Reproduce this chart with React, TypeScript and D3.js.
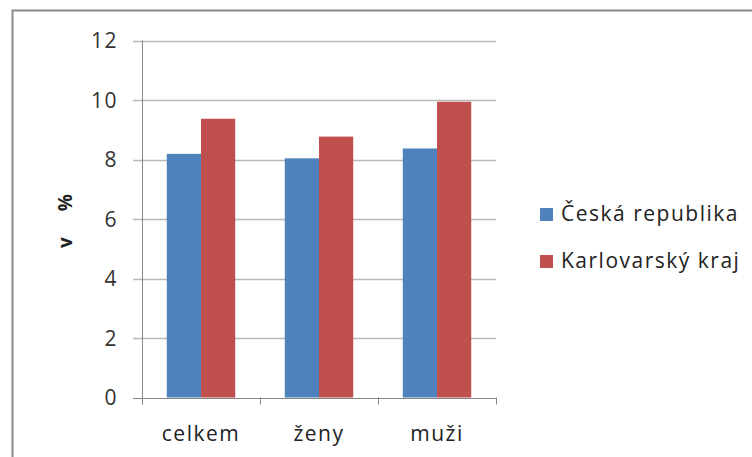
import React, { useEffect, useRef } from "react";
import * as d3 from "d3";

const categories = ["celkem", "ženy", "muži"];
const seriesNames = ["Česká republika", "Karlovarský kraj"];
const ceskaRepublika = [8.19, 8.04, 8.37];
const karlovarskyKraj = [9.37, 8.77, 9.94];
const yTicks = [0, 2, 4, 6, 8, 10, 12];
const colors = ["#4F81BD", "#C0504D"];

const App = () => {
  const ref = useRef<SVGSVGElement>(null);

  useEffect(() => {
    const width = 752;
    const height = 457;
    const left = 142;
    const right = 496;
    const top = 40.5;
    const bottom = 397.5;
    const font = "'Open Sans', sans-serif";
    const spacing = "1.5px";

    const svg = d3.select(ref.current);
    svg.selectAll("*").remove();

    // frame
    svg
      .append("path")
      .attr("d", `M12.5,${height} V10.5 H${width}`)
      .attr("fill", "none")
      .attr("stroke", "#8a8a8a")
      .attr("stroke-width", 2);

    const x = d3.scaleBand().domain(categories).range([left, right]).padding(0);
    const y = d3.scaleLinear().domain([0, 12]).range([bottom, top]);

    const groupWidth = x.bandwidth() * 0.58;
    const x1 = d3
      .scaleBand()
      .domain(seriesNames)
      .range([(x.bandwidth() - groupWidth) / 2, (x.bandwidth() + groupWidth) / 2]);

    // gridlines
    svg
      .selectAll("line.grid")
      .data(yTicks)
      .join("line")
      .attr("class", "grid")
      .attr("x1", left - 9)
      .attr("x2", right)
      .attr("y1", (d) => Math.round(y(d)) + 0.5)
      .attr("y2", (d) => Math.round(y(d)) + 0.5)
      .attr("stroke", (d) => (d === 0 ? "#868686" : "#b8b8b8"))
      .attr("stroke-width", (d) => (d === 0 ? 1 : 1.5));

    // bars
    const seriesData = [ceskaRepublika, karlovarskyKraj];
    seriesData.forEach((vals, si) => {
      svg
        .append("g")
        .selectAll("rect")
        .data(vals)
        .join("rect")
        .attr("x", (_, i) => (x(categories[i]) as number) + (x1(seriesNames[si]) as number))
        .attr("y", (d) => y(d))
        .attr("width", x1.bandwidth())
        .attr("height", (d) => y(0) - y(d))
        .attr("fill", colors[si]);
    });

    // y axis line
    svg
      .append("line")
      .attr("x1", left + 0.5)
      .attr("x2", left + 0.5)
      .attr("y1", top)
      .attr("y2", bottom + 7)
      .attr("stroke", "#868686");

    // x ticks
    const xTickPos = [...categories.map((c) => x(c) as number), right];
    svg
      .selectAll("line.xtick")
      .data(xTickPos)
      .join("line")
      .attr("class", "xtick")
      .attr("x1", (d) => Math.round(d) + 0.5)
      .attr("x2", (d) => Math.round(d) + 0.5)
      .attr("y1", bottom)
      .attr("y2", bottom + 7)
      .attr("stroke", "#868686");

    // y tick labels
    svg
      .selectAll("text.ytick")
      .data(yTicks)
      .join("text")
      .attr("class", "ytick")
      .attr("x", 118)
      .attr("y", (d) => y(d) + 7.5)
      .attr("text-anchor", "end")
      .style("font-family", font)
      .style("font-size", "21px")
      .style("letter-spacing", spacing)
      .style("fill", "#333")
      .text((d) => d);

    // x labels
    svg
      .selectAll("text.xlab")
      .data(categories)
      .join("text")
      .attr("class", "xlab")
      .attr("x", (d) => (x(d) as number) + x.bandwidth() / 2)
      .attr("y", 441)
      .attr("text-anchor", "middle")
      .style("font-family", font)
      .style("font-size", "21px")
      .style("letter-spacing", spacing)
      .style("fill", "#222")
      .text((d) => d);

    // y axis title
    const title = svg
      .append("text")
      .attr("transform", "translate(72,221) rotate(-90)")
      .attr("text-anchor", "middle")
      .style("font-family", font)
      .style("font-size", "19px")
      .style("font-weight", "bold")
      .style("fill", "#222");
    title.append("tspan").text("v");
    title.append("tspan").attr("dx", 26).text("%");

    // legend
    const legend = svg
      .selectAll("g.legend")
      .data(seriesNames)
      .join("g")
      .attr("class", "legend")
      .attr("transform", (_, i) => `translate(540,${208 + i * 47})`);
    legend
      .append("rect")
      .attr("width", 13)
      .attr("height", 13)
      .attr("fill", (_, i) => colors[i]);
    legend
      .append("text")
      .attr("x", 21)
      .attr("y", 13)
      .style("font-family", font)
      .style("font-size", "21px")
      .style("letter-spacing", spacing)
      .style("fill", "#222")
      .text((d) => d);
  }, []);

  return (
    <div style={{ position: "absolute", left: 0, top: 0 }}>
      <svg ref={ref} width={752} height={457} style={{ display: "block", background: "#fff" }} />
    </div>
  );
};

export default App;
